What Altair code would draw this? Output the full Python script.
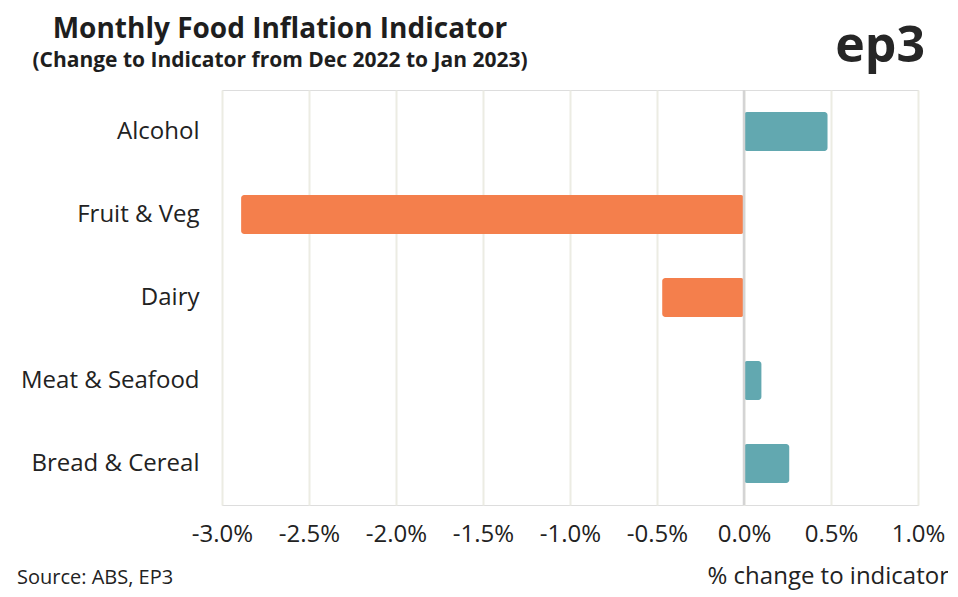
import altair as alt
import pandas as pd

categories = ["Alcohol", "Fruit & Veg", "Dairy ", "Meat & Seafood", "Bread & Cereal"]
values = [0.48, -2.89, -0.47, 0.10, 0.26]
ticks = [-3.0, -2.5, -2.0, -1.5, -1.0, -0.5, 0.0, 0.5, 1.0]

df = pd.DataFrame({
    "category": categories,
    "value": values,
    "sign": ["pos" if v >= 0 else "neg" for v in values],
})

FONT = "Open Sans"
W, H = 696, 415

x_enc = alt.X("value:Q",
              scale=alt.Scale(domain=[-3.0, 1.0], nice=False, zero=False),
              axis=alt.Axis(values=ticks,
                            labelExpr="replace(format(datum.value, '.1f'), '\u2212', '-') + '%'",
                            title=None, grid=True, gridColor="#ecece3", gridWidth=2,
                            domain=False, ticks=False, labelFontSize=24, labelColor="#222222",
                            labelFont=FONT, labelPadding=17, labelOverlap=False,
                            labelFlush=False, labelBound=False))
y_enc = alt.Y("category:N", sort=categories,
              scale=alt.Scale(paddingInner=0.53, paddingOuter=0.265),
              axis=alt.Axis(title=None, domain=False, ticks=False, labelFontSize=24,
                            labelColor="#222222", labelFont=FONT, labelPadding=23))

bars = alt.Chart(df).mark_bar(cornerRadius=3).encode(
    x=x_enc,
    x2=alt.datum(0),
    y=y_enc,
    color=alt.Color("sign:N", scale=alt.Scale(domain=["pos", "neg"], range=["#62a8b0", "#f47f4c"]),
                    legend=None),
)

zero = alt.Chart(pd.DataFrame({"z": [0.0]})).mark_rule(color="#d4d4d4", strokeWidth=2.5).encode(
    x=alt.X("z:Q")
)

def txt(s, x, y, size, weight="normal", align="left", color="#222222"):
    return alt.Chart(pd.DataFrame({"t": [s]})).mark_text(
        text=s, fontSize=size, fontWeight=weight, align=align, baseline="alphabetic",
        font=FONT, color=color
    ).encode(x=alt.value(x), y=alt.value(y))

title = txt("Monthly Food Inflation Indicator", 58, -52, 28, "bold", "center", "#1e1e1e")
subtitle = txt("(Change to Indicator from Dec 2022 to Jan 2023)", 58, -23, 21, "bold", "center", "#1e1e1e")
logo = txt("ep3", 703, -28.5, 50, "bold", "right", "#262626")
source = txt("Source: ABS, EP3", -205, 494, 20, "normal", "left", "#222222")
xtitle = txt("% change to indicator", 727, 494, 24, "normal", "right", "#222222")

chart = alt.layer(bars, zero, title, subtitle, logo, source, xtitle).properties(
    width=W, height=H,
    autosize=alt.AutoSizeParams(type="none"),
    padding={"left": 214, "top": 82, "right": 30, "bottom": 88},
).configure_view(stroke=None).configure(background="white")

chart.save("out.html", embed_options={"renderer": "svg", "actions": False})
